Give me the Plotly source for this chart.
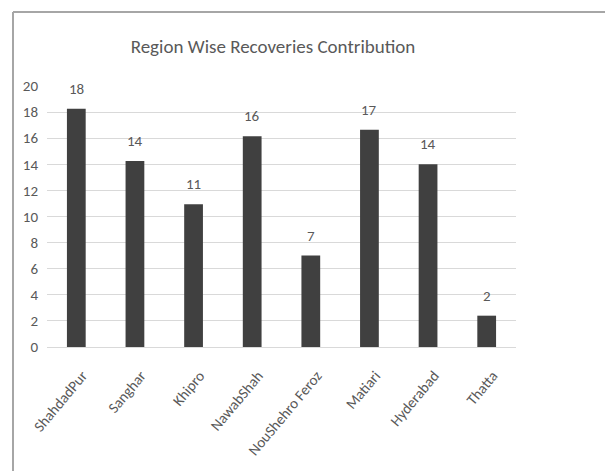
import plotly.graph_objects as go

categories = ["ShahdadPur", "Sanghar", "Khipro", "NawabShah", "NouShehro Feroz", "Matiari", "Hyderabad", "Thatta"]
values = [18.26, 14.25, 10.94, 16.14, 7.01, 16.65, 14.0, 2.4]
labels = ["18", "14", "11", "16", "7", "17", "14", "2"]
y_ticks = list(range(0, 21, 2))

FONT = "Carlito, 'Liberation Sans', sans-serif"
GRAY = "#595959"

fig = go.Figure()
fig.add_trace(go.Bar(
    x=categories, y=values,
    marker=dict(color="#404040", line=dict(width=0)),
    width=0.32,
    hoverinfo="x+y",
))

for c, v, t in zip(categories, values, labels):
    fig.add_annotation(x=c, y=v, text=t, showarrow=False, yanchor="bottom",
                       yshift=9, font=dict(family=FONT, size=15, color=GRAY))

W, H = 605, 471
L, R, T, B = 47, 89, 86, 124
pw, ph = W - L - R, H - T - B
def px2x(px):
    return (px - L) / pw
def py2y(py):
    return (H - B - py) / ph

fig.add_shape(type="line", xref="paper", yref="paper",
              x0=px2x(13), x1=px2x(13), y0=py2y(480), y1=py2y(12),
              line=dict(color="#a6a6a6", width=2))
fig.add_shape(type="line", xref="paper", yref="paper",
              x0=px2x(13), x1=px2x(620), y0=py2y(12), y1=py2y(12),
              line=dict(color="#a6a6a6", width=2))

fig.update_layout(
    width=W, height=H,
    margin=dict(l=L, r=R, t=T, b=B, pad=0),
    paper_bgcolor="white", plot_bgcolor="white",
    showlegend=False,
    font=dict(family=FONT, color=GRAY, size=15),
    title=dict(text="Region Wise Recoveries Contribution", x=273 / W, xref="container",
               xanchor="center", y=1 - 46 / H, yref="container", yanchor="middle",
               font=dict(family=FONT, size=19, color=GRAY)),
    xaxis=dict(tickangle=-50, showgrid=False, showline=False, ticks="",
               automargin=False, ticklabelstandoff=16, ticklabelshift=6,
               tickfont=dict(family=FONT, size=15, color=GRAY)),
    yaxis=dict(range=[0, 20], tickvals=y_ticks, showgrid=True, gridcolor="#d9d9d9",
               gridwidth=1, zeroline=True, zerolinecolor="#d9d9d9", zerolinewidth=1,
               automargin=False, showline=False, ticks="", ticklabelstandoff=8,
               tickfont=dict(family=FONT, size=15, color=GRAY)),
)

fig.write_html("out.html")
